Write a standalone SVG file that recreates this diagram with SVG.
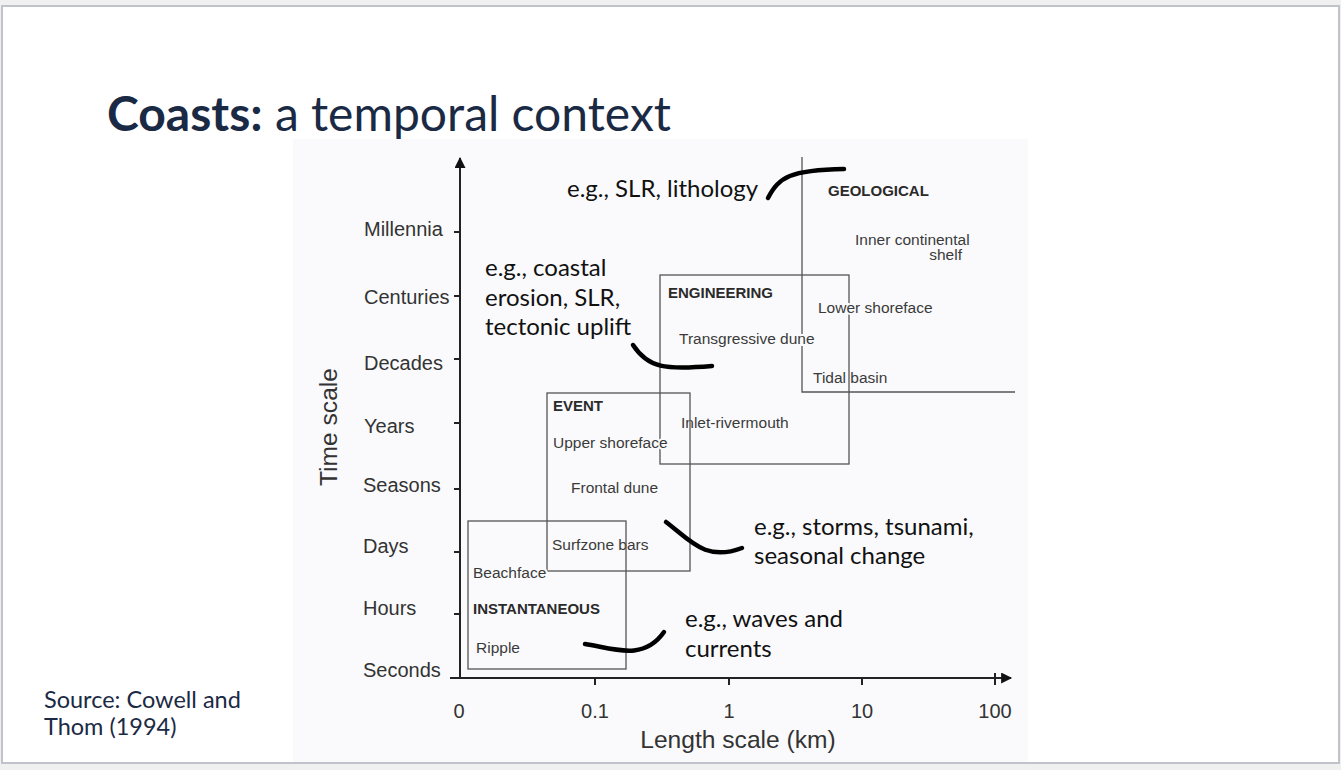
<svg xmlns="http://www.w3.org/2000/svg" width="1341" height="770" viewBox="0 0 1341 770">
<defs>
<style>
.ax{font-family:"Liberation Sans",Arial,sans-serif;font-size:20px;fill:#333}
.big{font-size:24.6px}
.lb{font-family:"Liberation Sans",Arial,sans-serif;font-size:15.5px;fill:#3a3a3a}
.hd{font-family:"Liberation Sans",Arial,sans-serif;font-size:15px;font-weight:bold;fill:#2a2a2a}
.bg{stroke:#fafafc;stroke-width:4px;paint-order:stroke}
.an{font-family:"Lato","Noto Sans",sans-serif;font-size:24px;fill:#111}
.src{font-family:"Lato","Noto Sans",sans-serif;font-size:23.5px;fill:#1b2a44}
.box{fill:none;stroke:#555;stroke-width:1.3}
.axis{fill:none;stroke:#222;stroke-width:2}
.tk{stroke:#222;stroke-width:2}
.cv{fill:none;stroke:#000;stroke-width:4.5;stroke-linecap:round}
</style>
<marker id="ah" viewBox="0 0 10 10" refX="9" refY="5" markerWidth="6" markerHeight="5.5" orient="auto" markerUnits="strokeWidth">
<path d="M0,0 L10,5 L0,10 z" fill="#111"/>
</marker>
</defs>
<rect x="0" y="0" width="1341" height="770" fill="#f0f0f0"/>
<rect x="2" y="6" width="1337" height="757" fill="#ffffff" stroke="#c0c4ca" stroke-width="2"/>
<rect x="293" y="139" width="735" height="623" fill="#fafafc"/>

<g id="title">
<text x="107" y="131" font-family="Lato,'Noto Sans',sans-serif" font-size="48px" fill="#1b2a44"><tspan font-weight="bold">Coasts:</tspan> a temporal context</text>
</g>

<g id="axes">
<line class="axis" x1="460" y1="678" x2="460" y2="158" marker-end="url(#ah)"/>
<line class="axis" x1="450" y1="678" x2="1011" y2="678" marker-end="url(#ah)"/>
<line class="tk" x1="454" y1="232" x2="460" y2="232"/>
<line class="tk" x1="454" y1="296" x2="460" y2="296"/>
<line class="tk" x1="454" y1="359" x2="460" y2="359"/>
<line class="tk" x1="454" y1="423" x2="460" y2="423"/>
<line class="tk" x1="454" y1="489" x2="460" y2="489"/>
<line class="tk" x1="454" y1="552" x2="460" y2="552"/>
<line class="tk" x1="454" y1="614" x2="460" y2="614"/>
<line class="tk" x1="595" y1="678" x2="595" y2="685"/>
<line class="tk" x1="729" y1="678" x2="729" y2="685"/>
<line class="tk" x1="862" y1="678" x2="862" y2="685"/>
<line class="tk" x1="995" y1="673" x2="995" y2="685"/>
<text class="ax" x="364" y="236">Millennia</text>
<text class="ax" x="364" y="304">Centuries</text>
<text class="ax" x="364" y="370">Decades</text>
<text class="ax" x="364" y="433">Years</text>
<text class="ax" x="363" y="492">Seasons</text>
<text class="ax" x="363" y="553">Days</text>
<text class="ax" x="363" y="615">Hours</text>
<text class="ax" x="363" y="677">Seconds</text>
<text class="ax" x="459" y="718" text-anchor="middle">0</text>
<text class="ax" x="595" y="718" text-anchor="middle">0.1</text>
<text class="ax" x="729" y="718" text-anchor="middle">1</text>
<text class="ax" x="862" y="718" text-anchor="middle">10</text>
<text class="ax" x="995" y="718" text-anchor="middle">100</text>
<text class="ax big" x="738" y="748" text-anchor="middle">Length scale (km)</text>
<text class="ax big" transform="translate(337,427) rotate(-90)" text-anchor="middle">Time scale</text>
</g>

<g id="geological">
<polyline class="box" points="802,157 802,392 1015,392"/>
<text class="hd" x="828" y="196">GEOLOGICAL</text>
<text class="lb" x="855" y="245">Inner continental</text>
<text class="lb" x="962" y="260" text-anchor="end">shelf</text>
<text class="lb bg" x="813" y="383">Tidal basin</text>
</g>

<g id="engineering">
<rect class="box" x="660" y="275" width="189" height="189"/>
<text class="hd" x="668" y="298">ENGINEERING</text>
<text class="lb bg" x="818" y="313">Lower shoreface</text>
<text class="lb bg" x="679" y="344">Transgressive dune</text>
<text class="lb bg" x="681" y="428">Inlet-rivermouth</text>
</g>

<g id="event">
<rect class="box" x="547" y="393" width="143" height="178"/>
<text class="hd bg" x="553" y="411">EVENT</text>
<text class="lb bg" x="553" y="448">Upper shoreface</text>
<text class="lb bg" x="571" y="493">Frontal dune</text>
<text class="lb bg" x="552" y="550">Surfzone bars</text>
</g>

<g id="instantaneous">
<rect class="box" x="468" y="521" width="158" height="148"/>
<text class="lb bg" x="473" y="578">Beachface</text>
<text class="hd" x="473" y="614">INSTANTANEOUS</text>
<text class="lb" x="476" y="653">Ripple</text>
</g>

<g id="annotations">
<text class="an" x="567" y="197">e.g., SLR, lithology</text>
<text class="an" x="485" y="276">e.g., coastal</text>
<text class="an" x="485" y="306">erosion, SLR,</text>
<text class="an" x="485" y="335">tectonic uplift</text>
<text class="an" x="754" y="535">e.g., storms, tsunami,</text>
<text class="an" x="754" y="564">seasonal change</text>
<text class="an" x="685" y="627">e.g., waves and</text>
<text class="an" x="685" y="657">currents</text>
</g>

<g id="connectors">
<path class="cv" d="M768,198 C779,177 790,170 844,169"/>
<path class="cv" d="M633,345 C648,368 665,370 712,366"/>
<path class="cv" d="M666,522 C690,540 705,562 742,548"/>
<path class="cv" d="M585,644 C612,648 643,662 664,632"/>
</g>

<g id="source">
<text class="src" x="44" y="708">Source: Cowell and</text>
<text class="src" x="44" y="735">Thom (1994)</text>
</g>
</svg>
